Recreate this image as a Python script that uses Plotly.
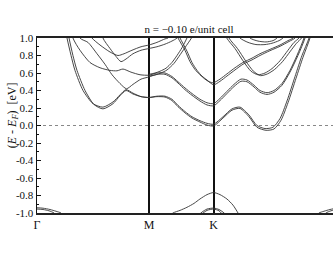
import plotly.graph_objects as go

# ---- tick labels / path ----
k_ticks = [0.0, 1.0, 1.577]
k_labels = ["Γ", "M", "K"]
e_ticks = [1.0, 0.8, 0.6, 0.4, 0.2, 0.0, -0.2, -0.4, -0.6, -0.8, -1.0]
e_labels = ["1.0", "0.8", "0.6", "0.4", "0.2", "0.0", "-0.2", "-0.4", "-0.6", "-0.8", "-1.0"]
title_text = "n = −0.10 e/unit cell"

# ---- conduction bands (spin pairs) ----
k_c1a = [0.223,0.268,0.304,0.339,0.411,0.5,0.589,0.679,0.741,0.795,0.857,0.929,1.0,1.071,1.143,1.205,1.259,1.321,1.384,1.455,1.518,1.577,1.661,1.741,1.8125,1.893,1.964,2.036,2.107,2.170,2.232,2.304,2.366,2.429,2.464]
e_c1a = [1.3,1.0,0.80,0.63,0.40,0.25,0.21,0.27,0.35,0.41,0.37,0.33,0.32,0.335,0.335,0.30,0.23,0.16,0.10,0.055,0.025,0.015,0.10,0.19,0.21,0.12,0.0,-0.035,-0.02,0.08,0.28,0.56,0.80,1.0,1.2]
k_c1b = [0.241,0.286,0.321,0.357,0.429,0.509,0.589,0.679,0.741,0.795,0.857,0.929,1.0,1.071,1.143,1.205,1.259,1.321,1.384,1.455,1.518,1.577,1.661,1.741,1.8125,1.893,1.964,2.045,2.116,2.179,2.241,2.313,2.375,2.4375,2.473]
e_c1b = [1.3,1.0,0.80,0.63,0.40,0.24,0.19,0.25,0.34,0.40,0.36,0.33,0.32,0.33,0.325,0.285,0.215,0.145,0.085,0.04,0.005,-0.005,0.085,0.175,0.195,0.10,-0.02,-0.055,-0.04,0.06,0.26,0.54,0.78,1.0,1.2]

k_c2 = [0.277,0.321,0.384,0.473,0.5625,0.652,0.714,0.768,0.839,0.920,1.0,1.071,1.143,1.205,1.259,1.321,1.384,1.455,1.518,1.577,1.634,1.696,1.759,1.821,1.875,1.938,1.991,2.054,2.116,2.1875,2.259,2.321,2.384,2.420]
e_c2 = [1.3,1.0,0.86,0.72,0.66,0.63,0.625,0.645,0.61,0.58,0.575,0.60,0.60,0.56,0.50,0.43,0.365,0.30,0.26,0.25,0.31,0.39,0.47,0.53,0.52,0.46,0.40,0.375,0.40,0.48,0.63,0.80,1.0,1.2]
k_c3 = [0.348,0.384,0.455,0.536,0.607,0.670,0.741,0.799,0.857,0.929,1.0,1.071,1.143,1.205,1.259,1.321,1.384,1.455,1.518,1.577,1.634,1.696,1.759,1.821,1.875,1.938,1.991,2.054,2.116,2.1875,2.259,2.330,2.393,2.429]
e_c3 = [1.3,1.0,0.95,0.82,0.70,0.58,0.48,0.42,0.47,0.53,0.555,0.585,0.585,0.545,0.485,0.41,0.345,0.28,0.235,0.225,0.285,0.365,0.445,0.505,0.50,0.44,0.38,0.355,0.38,0.46,0.61,0.80,1.0,1.2]

k_c4 = [0.5625,0.589,0.652,0.705,0.75,0.795,0.857,0.929,1.0,1.071,1.143,1.205,1.25,1.295]
e_c4 = [1.2,1.0,0.88,0.79,0.73,0.76,0.82,0.86,0.88,0.90,0.93,0.965,1.0,1.1]
k_c5 = [0.455,0.491,0.5625,0.652,0.723,0.777,0.848,0.929,1.0,1.071,1.143,1.170,1.205]
e_c5 = [1.1,1.0,0.92,0.84,0.80,0.82,0.86,0.90,0.92,0.95,0.99,1.0,1.1]

k_c6a = [1.0,1.054,1.098,1.152,1.205,1.25,1.295,1.339,1.375]
e_c6a = [0.585,0.60,0.62,0.655,0.72,0.80,0.89,1.0,1.1]
k_c6b = [1.0,1.0625,1.107,1.161,1.223,1.268,1.321,1.379,1.411]
e_c6b = [0.565,0.58,0.60,0.635,0.71,0.79,0.89,1.0,1.1]

k_c7a = [1.223,1.259,1.321,1.366,1.411,1.455,1.5,1.536,1.577,1.634,1.696,1.768,1.839,1.920,1.991,2.080,2.170,2.241,2.286,2.330]
e_c7a = [1.1,1.0,0.86,0.73,0.64,0.58,0.53,0.50,0.49,0.53,0.59,0.66,0.72,0.77,0.82,0.87,0.92,0.97,1.0,1.1]
k_c7b = [1.241,1.277,1.339,1.384,1.429,1.473,1.518,1.577,1.634,1.696,1.768,1.839,1.920,1.991,2.080,2.170,2.250,2.304,2.348]
e_c7b = [1.1,1.0,0.85,0.72,0.63,0.565,0.52,0.465,0.505,0.565,0.635,0.70,0.75,0.80,0.855,0.905,0.96,1.0,1.1]

k_c8a = [1.652,1.694,1.768,1.839,1.911,1.973,2.036,2.098,2.170,2.241,2.295,2.339,2.375]
e_c8a = [1.15,1.0,0.88,0.74,0.62,0.58,0.60,0.65,0.74,0.86,0.95,1.0,1.1]
k_c8b = [1.674,1.714,1.790,1.862,1.933,1.996,2.058,2.121,2.192,2.263,2.317,2.362,2.397]
e_c8b = [1.15,1.0,0.88,0.74,0.62,0.57,0.59,0.64,0.73,0.85,0.94,1.0,1.1]

k_c9a = [1.768,1.8125,1.884,1.955,2.036,2.098,2.161,2.196,2.232]
e_c9a = [1.1,1.0,0.95,0.925,0.925,0.94,0.97,1.0,1.1]
k_c9b = [1.857,1.902,1.973,2.045,2.107,2.143,2.179]
e_c9b = [1.1,1.0,0.965,0.955,0.97,1.0,1.1]

# ---- valence bands ----
k_v1 = [1.170,1.214,1.277,1.339,1.402,1.455,1.518,1.577,1.634,1.696,1.75,1.795,1.821]
e_v1 = [-1.05,-1.0,-0.97,-0.935,-0.89,-0.84,-0.79,-0.766,-0.79,-0.84,-0.91,-1.0,-1.06]
k_v2a = [1.446,1.473,1.518,1.577,1.625,1.661,1.6875]
e_v2a = [-1.02,-0.99,-0.955,-0.944,-0.96,-0.99,-1.02]
k_v2b = [1.473,1.518,1.577,1.625,1.652]
e_v2b = [-1.01,-0.97,-0.955,-0.975,-1.01]
k_v3a = [0.0,0.054,0.116,0.170,0.214,0.25]
e_v3a = [-0.94,-0.945,-0.96,-0.98,-1.0,-1.05]
k_v3b = [0.0,0.054,0.107,0.152,0.1875]
e_v3b = [-0.955,-0.96,-0.975,-1.0,-1.05]
k_v4a = [2.732,2.678,2.616,2.562,2.518,2.482]
e_v4a = [-0.94,-0.945,-0.96,-0.98,-1.0,-1.05]
k_v4b = [2.732,2.678,2.625,2.580,2.545]
e_v4b = [-0.955,-0.96,-0.975,-1.0,-1.05]

bands = [
    (k_c1a, e_c1a), (k_c1b, e_c1b), (k_c2, e_c2), (k_c3, e_c3),
    (k_c4, e_c4), (k_c5, e_c5), (k_c6a, e_c6a), (k_c6b, e_c6b),
    (k_c7a, e_c7a), (k_c7b, e_c7b), (k_c8a, e_c8a), (k_c8b, e_c8b),
    (k_c9a, e_c9a), (k_c9b, e_c9b),
    (k_v1, e_v1), (k_v2a, e_v2a), (k_v2b, e_v2b),
    (k_v3a, e_v3a), (k_v3b, e_v3b), (k_v4a, e_v4a), (k_v4b, e_v4b),
]

SERIF = "Liberation Serif, Times New Roman, serif"

fig = go.Figure()
for kk, ee in bands:
    fig.add_trace(go.Scatter(
        x=kk, y=ee, mode="lines",
        line=dict(color="#333333", width=0.9, shape="spline", smoothing=0.7),
        hoverinfo="skip", showlegend=False,
    ))

# Fermi level
fig.add_shape(type="line", xref="paper", x0=0, x1=1, yref="y", y0=0, y1=0,
              line=dict(color="#888888", width=1, dash="dot"), layer="below")

fig.update_layout(
    width=333, height=258,
    margin=dict(l=37, r=0, t=38, b=45),
    paper_bgcolor="white", plot_bgcolor="white",
    font=dict(family=SERIF, color="#111111", size=11),
    title=dict(text=title_text, x=189 / 333, xref="container", xanchor="center",
               y=1 - 29.5 / 258, yref="container", yanchor="middle",
               font=dict(family=SERIF, size=11, color="#111111")),
    annotations=[dict(
        text="(<i>E</i> - <i>E</i><sub><i>F</i></sub>)\u00a0\u00a0[eV]",
        textangle=-90, xref="paper", yref="paper",
        x=(13 - 37) / 296, y=(212.7 - 115) / 175,
        xanchor="center", yanchor="middle", showarrow=False,
        font=dict(family=SERIF, size=12, color="#111111"),
    )],
)

fig.update_xaxes(
    range=[0, 2.643], tickvals=k_ticks, ticktext=k_labels, ticks="",
    showgrid=True, gridcolor="#111111", gridwidth=2,
    showline=True, linecolor="#222222", linewidth=2, mirror=True,
    zeroline=False, automargin=False,
    tickfont=dict(family=SERIF, size=12, color="#111111"),
)
fig.update_yaxes(
    range=[-1, 1], tickvals=e_ticks, ticktext=e_labels,
    ticks="inside", ticklen=4, tickwidth=1, tickcolor="#111111",
    minor=dict(dtick=0.1, ticks="inside", ticklen=2, tickcolor="#111111", showgrid=False),
    showgrid=False, zeroline=False, automargin=False,
    showline=True, linecolor="#111111", linewidth=1.5, mirror=False,
    tickfont=dict(family=SERIF, size=11, color="#111111"),
)

fig.write_html(
    "out.html",
    config={"displayModeBar": False, "staticPlot": True},
    post_script="document.body.style.margin='0';document.body.style.overflow='hidden';",
)
